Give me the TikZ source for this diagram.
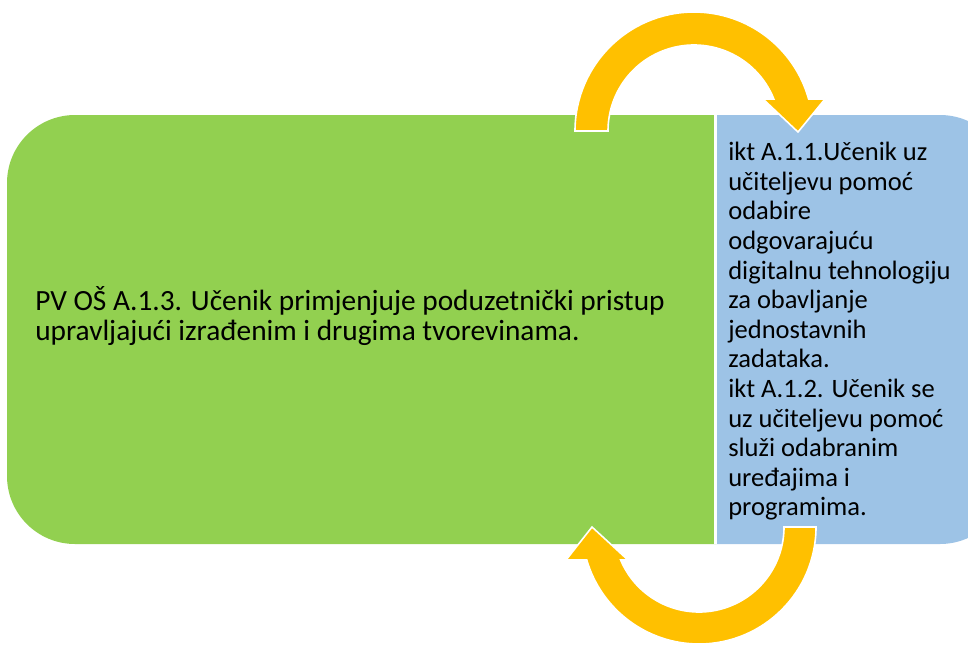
\documentclass[tikz,border=0pt]{standalone}
\usepackage{fontspec}
\setmainfont{Carlito}
\definecolor{pvgreen}{RGB}{146,208,80}
\definecolor{iktblue}{RGB}{157,195,230}
\definecolor{arrowgold}{RGB}{255,192,0}

\begin{document}
\begin{tikzpicture}[x=0.75pt,y=0.75pt]

%
% Styles
%
\tikzstyle{box text} = [inner sep=0pt,align=left]
\tikzstyle{bend arrow} = [fill=arrowgold,draw=white,line width=1.2pt]

\useasboundingbox (0,0) rectangle (968,-644);
\clip (0,0) rectangle (968,-644);

% boxes
\fill[pvgreen] (716,-115) -- (75,-115) arc[start angle=90,end angle=180,radius=68]
  -- (7,-476) arc[start angle=180,end angle=270,radius=68] -- (716,-544) -- cycle;
\fill[iktblue] (716,-115) -- (940,-115) arc[start angle=90,end angle=0,radius=68]
  -- (1008,-476) arc[start angle=0,end angle=-90,radius=68] -- (716,-544) -- cycle;
\draw[white,line width=2.25pt] (715.5,-115) -- (715.5,-544);

\node[box text,anchor=north west,font=\fontsize{22}{22.5}\selectfont] (pv) at (35,-286)
  {PV OŠ A.1.3. Učenik primjenjuje poduzetnički pristup\\
   upravljajući izrađenim i drugima tvorevinama.};
\node[box text,anchor=north west,font=\fontsize{19.9}{22.2}\selectfont] (ikt) at (728,-142)
  {ikt A.1.1.Učenik uz\\
   učiteljevu pomoć\\
   odabire\\
   odgovarajuću\\
   digitalnu tehnologiju\\
   za obavljanje\\
   jednostavnih\\
   zadataka.\\
   ikt A.1.2. Učenik se\\
   uz učiteljevu pomoć\\
   služi odabranim\\
   uređajima i\\
   programima.};

% arrows
\coordinate (top) at (694,-131);
\coordinate (bottom) at (699,-527);
\path[bend arrow] ([shift={(180:119)}]top) arc[start angle=180,end angle=15.6,radius=119]
  -- (825,-99) -- (798,-132) -- (763,-99)
  -- ([shift={(21.8:86)}]top) arc[start angle=21.8,end angle=180,radius=86] -- cycle;
\path[bend arrow] ([shift={(0:117)}]bottom) arc[start angle=0,end angle=-163.6,radius=117]
  -- (566,-560) -- (592,-527) -- (628,-560)
  -- ([shift={(-157.2:85)}]bottom) arc[start angle=-157.2,end angle=0,radius=85] -- cycle;

\end{tikzpicture}
\end{document}
